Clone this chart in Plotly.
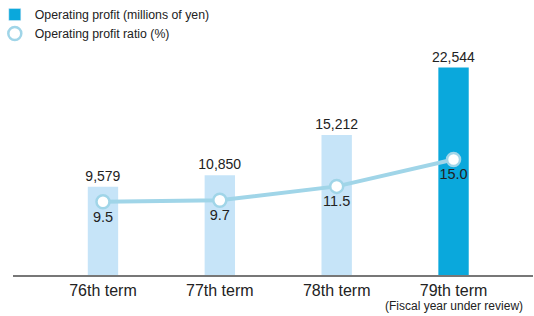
import plotly.graph_objects as go

terms = ["76th term", "77th term", "78th term", "79th term"]
tick_labels = ["76th term", "77th term", "78th term", "79th term"]
sub_label = "(Fiscal year under review)"
profit = [9579, 10850, 15212, 22544]
ratio = [9.5, 9.7, 11.5, 15.0]

light = "#C6E4F8"
dark = "#0AA8DC"
line_c = "#A0D5E8"
txt = "#222222"
font = "Liberation Sans, Arial, sans-serif"

fig = go.Figure()
fig.add_trace(go.Bar(
    x=terms, y=profit, width=0.26,
    marker=dict(color=[light, light, light, dark], line=dict(width=0)),
    texttemplate="%{y:,}", textposition="outside", cliponaxis=False,
    constraintext="none",
    textfont=dict(size=14, color=txt, family=font),
    name="Operating profit (millions of yen)", showlegend=False,
))
fig.add_trace(go.Scatter(
    x=terms, y=ratio, yaxis="y2", mode="lines+markers+text",
    line=dict(color=line_c, width=4),
    marker=dict(size=13, color="white", line=dict(color=line_c, width=2.5)),
    text=[f"{v:.1f}" for v in ratio], textposition="bottom center",
    textfont=dict(size=14.5, color=txt, family=font),
    name="Operating profit ratio (%)", showlegend=False, cliponaxis=False,
))
# legend entries
fig.add_trace(go.Bar(x=[terms[0]], y=[0], marker=dict(color=dark), width=0.0001,
                     name="Operating profit (millions of yen)"))
fig.add_trace(go.Scatter(x=[terms[0]], y=[-100], mode="markers",
                         marker=dict(size=13, color="white", line=dict(color=line_c, width=2.5)),
                         name="Operating profit ratio (%)"))

fig.add_annotation(x=terms[3], xref="x", y=0, yref="paper", yanchor="top",
                   yshift=-22, text=sub_label, showarrow=False,
                   font=dict(size=12, color=txt, family=font))

fig.update_layout(
    width=534, height=316,
    margin=dict(l=13, r=1, t=40, b=41, autoexpand=False),
    paper_bgcolor="white", plot_bgcolor="white",
    font=dict(family=font, color=txt),
    barmode="overlay",
    xaxis=dict(type="category", range=[-0.77, 3.68], tickmode="array",
               tickvals=terms, ticktext=tick_labels, tickangle=0, automargin=False,
               showline=True, linecolor="#777777", linewidth=1.5,
               showgrid=False, ticks="", tickfont=dict(size=16, color=txt)),
    yaxis=dict(range=[0, 25543], visible=False, showgrid=False),
    yaxis2=dict(range=[0, 30.5], overlaying="y", visible=False, showgrid=False),
    legend=dict(x=-0.035, y=1.17, xanchor="left", yanchor="top",
                font=dict(size=12.3, color=txt), tracegroupgap=0,
                itemwidth=30, bgcolor="rgba(0,0,0,0)"),
    showlegend=True,
)
fig.write_html("out.html", config={"displayModeBar": False},
               post_script="document.body.style.margin='0';document.body.style.overflow='hidden';")
